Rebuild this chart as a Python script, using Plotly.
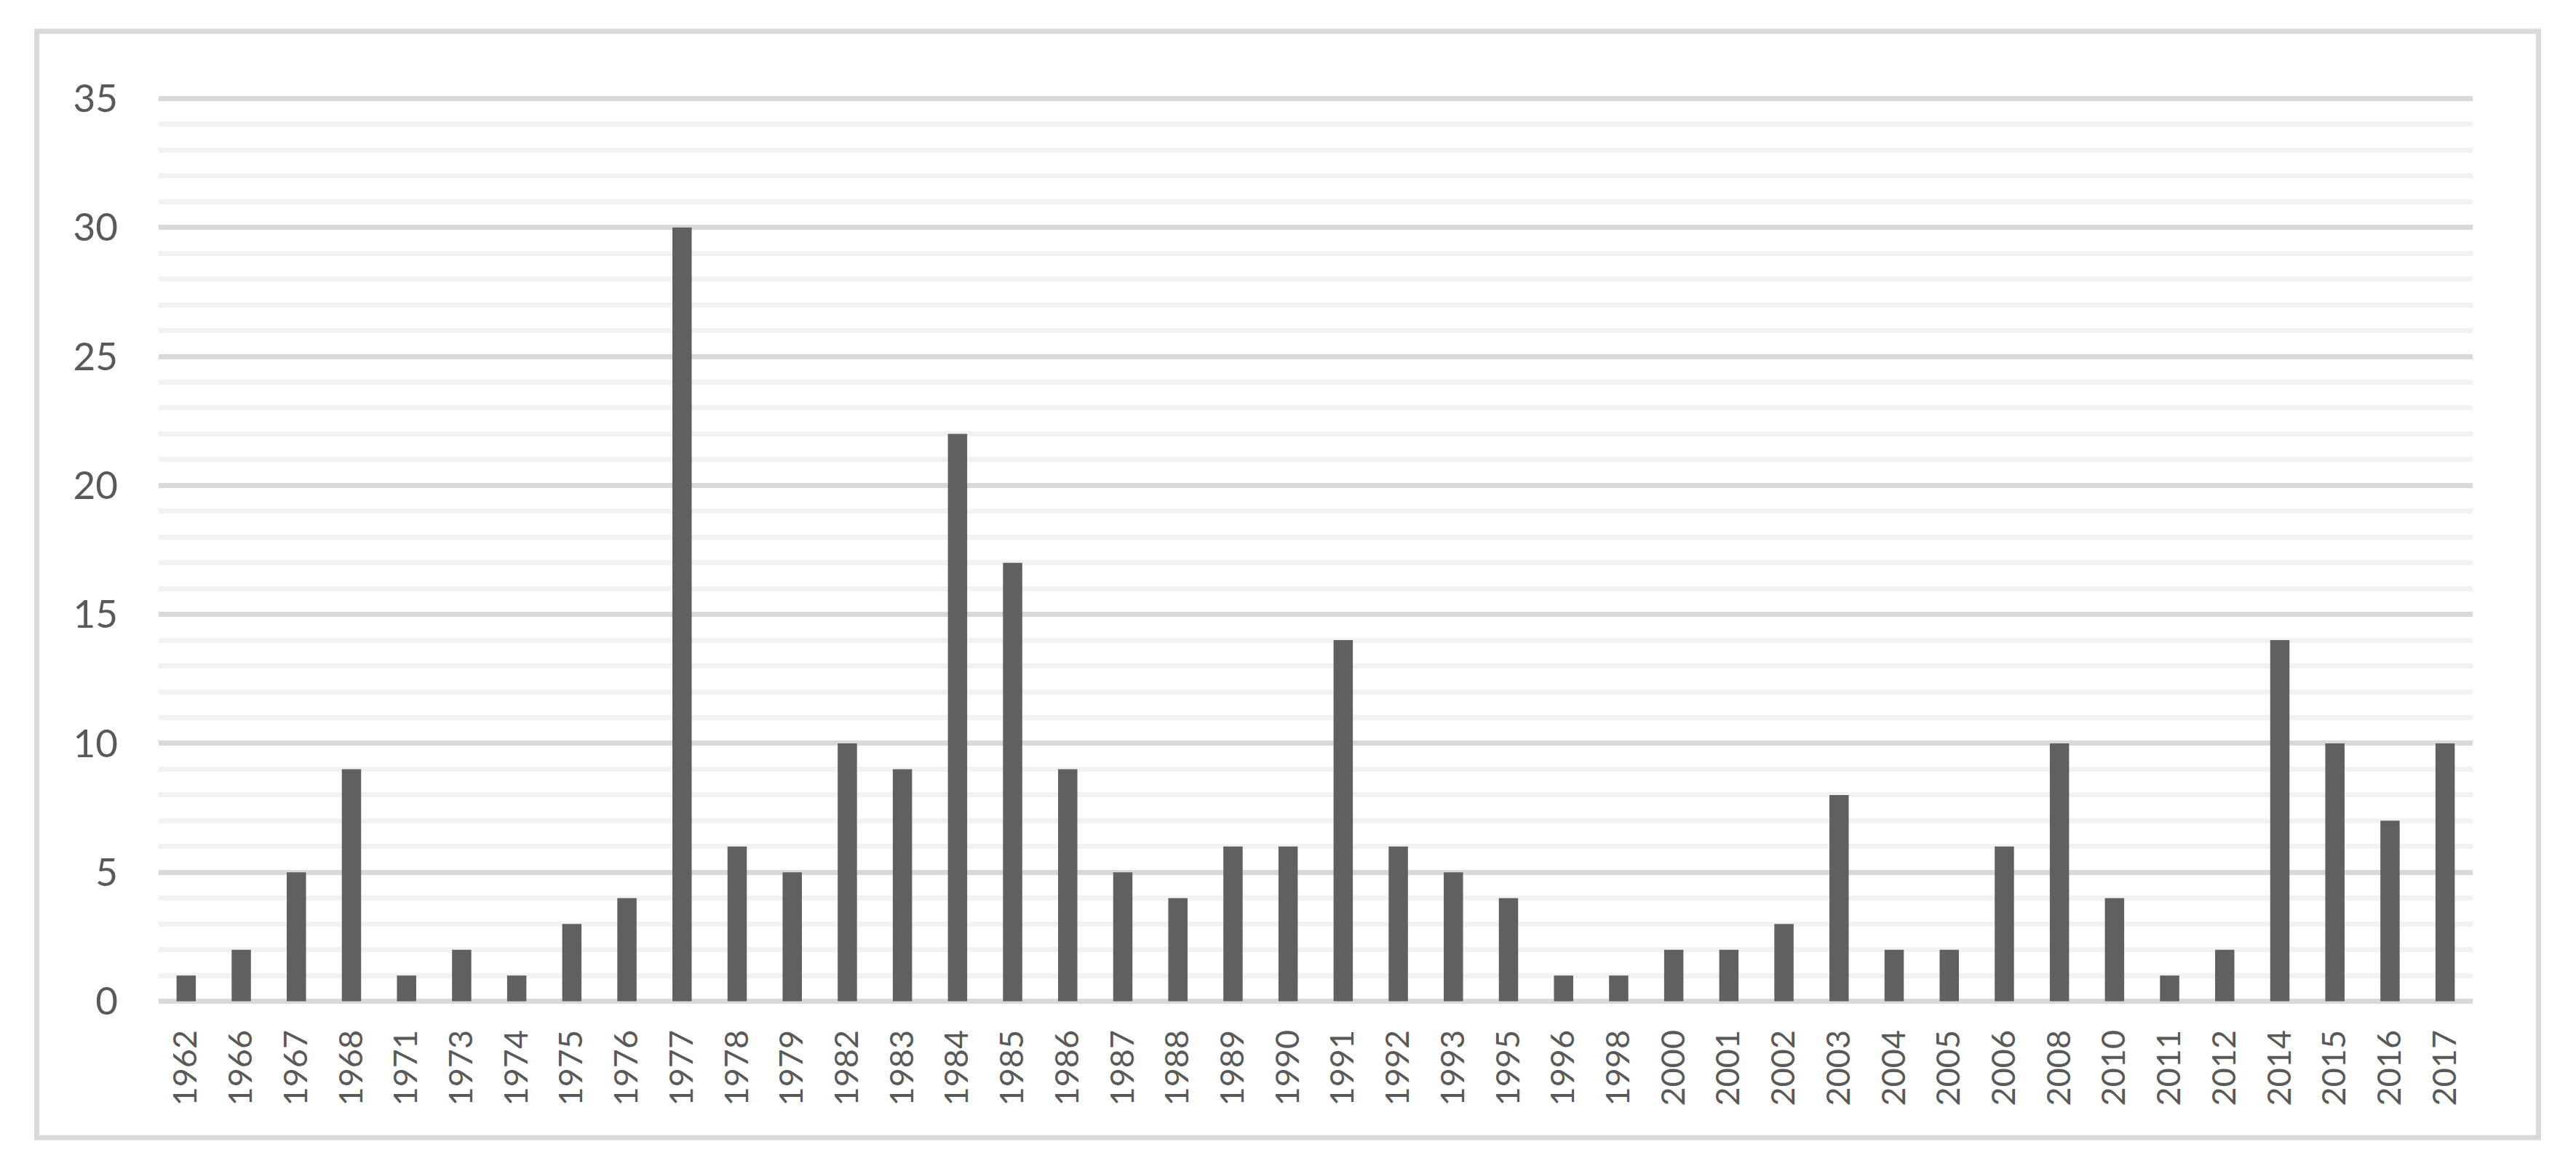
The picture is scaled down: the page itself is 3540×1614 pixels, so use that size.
import plotly.graph_objects as go

years = ["1962", "1966", "1967", "1968", "1971", "1973", "1974", "1975", "1976", "1977",
         "1978", "1979", "1982", "1983", "1984", "1985", "1986", "1987", "1988", "1989",
         "1990", "1991", "1992", "1993", "1995", "1996", "1998", "2000", "2001", "2002",
         "2003", "2004", "2005", "2006", "2008", "2010", "2011", "2012", "2014", "2015",
         "2016", "2017"]
counts = [1, 2, 5, 9, 1, 2, 1, 3, 4, 30,
          6, 5, 10, 9, 22, 17, 9, 5, 4, 6,
          6, 14, 6, 5, 4, 1, 1, 2, 2, 3,
          8, 2, 2, 6, 10, 4, 1, 2, 14, 10,
          7, 10]
y_ticks = [0, 5, 10, 15, 20, 25, 30, 35]

# page body has an 8px default margin; shift the figure content to compensate
OFF = 8
W, H = 3540 - OFF, 1614 - OFF
pad_units = 0.04
unit_px = 1242 / 35.0
L = 218 - OFF
R = 3540 - 3398
T = 135 - OFF - pad_units * unit_px
B = (1614 - 1377) - pad_units * unit_px

fig = go.Figure(go.Bar(x=years, y=counts, marker=dict(color="#606060", line=dict(width=0)),
                       hoverinfo="skip"))

pw = W - L - R
ph = H - T - B
def px_x(p):
    return (p - OFF - L) / pw
def px_y(p):
    return (H - B - (p - OFF)) / ph

fig.add_shape(type="rect", xref="paper", yref="paper",
              x0=px_x(50.5), x1=px_x(3488.5), y0=px_y(1564.5), y1=px_y(42.5),
              line=dict(color="#d9d9d9", width=7), fillcolor="rgba(0,0,0,0)", layer="below")

fig.update_layout(
    width=W, height=H,
    margin=dict(l=L, r=R, t=T, b=B, pad=0),
    paper_bgcolor="white", plot_bgcolor="white",
    bargap=0.65, showlegend=False,
    font=dict(family="Lato, 'Open Sans', sans-serif", color="#595959"),
)
fig.update_xaxes(type="category", tickangle=-90, showgrid=False, zeroline=False, showline=False,
                 ticks="", tickfont=dict(size=45, color="#595959"), ticklabelstandoff=28)
fig.update_yaxes(range=[-pad_units, 35 + pad_units], tickvals=y_ticks, showgrid=True,
                 gridcolor="#d9d9d9", gridwidth=7,
                 zeroline=False, showline=False, ticks="",
                 minor=dict(dtick=1, showgrid=True, gridcolor="#f2f2f2", gridwidth=7),
                 tickfont=dict(size=53, color="#595959"), ticklabelstandoff=55)

fig.write_html("out.html")
